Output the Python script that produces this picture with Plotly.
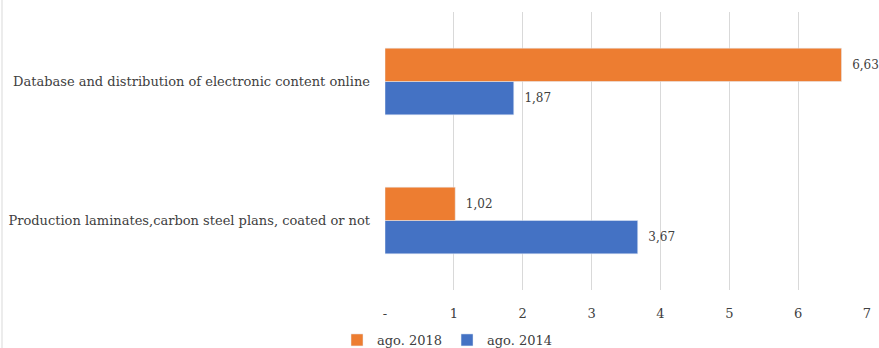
import plotly.graph_objects as go

# Categories (bottom to top on the axis) and values per period
categories = [
    "Production laminates,carbon steel plans, coated or not",
    "Database and distribution of electronic content online",
]
values_2014 = [3.67, 1.87]
values_2018 = [1.02, 6.63]
series_names = ["ago. 2014", "ago. 2018"]
tick_values = [0, 1, 2, 3, 4, 5, 6, 7]
tick_labels = ["-", "1", "2", "3", "4", "5", "6", "7"]

W, H = 879, 348
L, R, T, B = 385, 12, 12, 58
PLOT_H = H - T - B
PLOT_W = W - L - R
FONT = "DejaVu Serif"
SIZE = 13
TEXT = "#404040"


def fmt(v):
    return "  " + f"{v:.2f}".replace(".", ",")


fig = go.Figure()
fig.add_trace(go.Bar(
    y=categories, x=values_2014, name=series_names[0], orientation="h",
    marker=dict(color="#4472C4"),
    text=[fmt(v) for v in values_2014], textposition="outside",
    textfont=dict(family=FONT, size=12, color=TEXT), cliponaxis=False,
))
fig.add_trace(go.Bar(
    y=categories, x=values_2018, name=series_names[1], orientation="h",
    marker=dict(color="#ED7D31"),
    text=[fmt(v) for v in values_2018], textposition="outside",
    textfont=dict(family=FONT, size=12, color=TEXT), cliponaxis=False,
))

fig.update_layout(
    width=W, height=H,
    margin=dict(l=L, r=R, t=T, b=B, autoexpand=False),
    paper_bgcolor="white", plot_bgcolor="white",
    barmode="group", bargap=0.52, bargroupgap=0,
    uniformtext=dict(minsize=12, mode=False),
    font=dict(family=FONT, size=SIZE, color=TEXT),
    xaxis=dict(
        range=[0, 7], tickvals=tick_values, ticktext=tick_labels,
        showgrid=True, gridcolor="#D9D9D9", gridwidth=1,
        zeroline=False, showline=False, ticks="",
        ticklabelstandoff=14, automargin=False,
        tickfont=dict(family=FONT, size=SIZE, color=TEXT),
    ),
    yaxis=dict(
        showgrid=False, zeroline=False, showline=False, ticks="",
        ticklabelstandoff=14, automargin=False,
        tickfont=dict(family=FONT, size=SIZE, color=TEXT),
    ),
    legend=dict(
        orientation="h", traceorder="reversed",
        xref="paper", x=(W / 2 + 8 - L) / PLOT_W, xanchor="center",
        yref="paper", y=(T + PLOT_H - 340) / PLOT_H, yanchor="middle",
        font=dict(family=FONT, size=SIZE, color=TEXT),
        itemwidth=30, tracegroupgap=0,
    ),
    showlegend=True,
    shapes=[dict(
        type="line", xref="paper", yref="paper",
        x0=(2 - L) / PLOT_W, x1=(2 - L) / PLOT_W,
        y0=-B / PLOT_H, y1=1 + T / PLOT_H,
        line=dict(color="#D9D9D9", width=1),
    )],
)

fig.write_html("out.html")
